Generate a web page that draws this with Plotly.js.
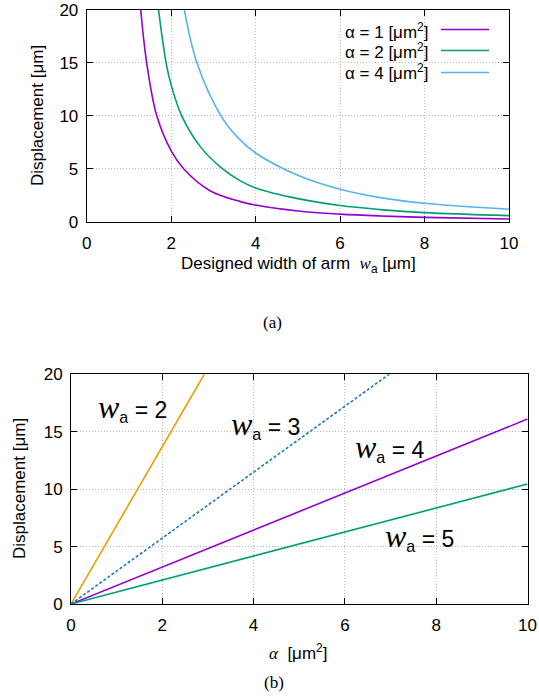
<!DOCTYPE html>
<html>
<head>
<meta charset="utf-8">
<script src="https://cdn.plot.ly/plotly-3.0.1.min.js"></script>
<style>html,body{margin:0;padding:0;background:#fff;}#chart{width:539px;height:696px;}</style>
</head>
<body>
<div id="chart"></div>
<script>
// ---- Panel (a): displacement vs designed arm width ----
const widthA1 = [1.28, 1.42, 1.66, 2.0, 2.3, 2.92, 3.64, 4, 5, 6, 6.95, 8, 10];
const dispA1  = [20, 15, 10, 6.7, 5, 2.95, 1.92, 1.6, 1.04, 0.74, 0.57, 0.44, 0.28];
const widthA2 = [1.70, 1.88, 2.0, 2.25, 2.69, 3.22, 3.64, 4, 5, 6, 6.95, 8, 10];
const dispA2  = [20, 15, 12.9, 10, 7.1, 5, 3.87, 3.2, 2.2, 1.55, 1.17, 0.88, 0.6];
const widthA4 = [2.31, 2.61, 3.18, 3.59, 4, 5, 6, 6.95, 8, 10];
const dispA4  = [20, 15, 10, 7.9, 6.5, 4.4, 3.08, 2.3, 1.76, 1.2];
const legendLabelsA = ['α = 1 [μm<sup>2</sup>]', 'α = 2 [μm<sup>2</sup>]', 'α = 4 [μm<sup>2</sup>]'];

// ---- Panel (b): displacement vs alpha ----
const alphaB = [0, 10];
const dispW2 = [0, 68.5];
const dispW3 = [0, 28.7];
const dispW4 = [0, 16.1];
const dispW5 = [0, 10.45];
const labelPosB = [[1.34, 17.1, '2'], [4.25, 15.6, '3'], [6.98, 13.6, '4'], [7.64, 5.84, '5']];

const xTicks = [0, 2, 4, 6, 8, 10];
const yTicks = [0, 5, 10, 15, 20];

const purple = '#9400D3', green = '#009E73', sky = '#56B4E9', orange = '#E69F00', blue = '#1f78b8';
const W = 539, H = 696;
const px = v => v / W, py = v => 1 - v / H;
const SANS = 'Liberation Sans';
const SERIF = 'Liberation Serif';

const lw = 1.6;
const sp = {shape: 'spline', smoothing: 1};
const traces = [
  {x: widthA1, y: dispA1, mode: 'lines', line: Object.assign({color: purple, width: lw}, sp), xaxis: 'x', yaxis: 'y'},
  {x: widthA2, y: dispA2, mode: 'lines', line: Object.assign({color: green, width: lw}, sp), xaxis: 'x', yaxis: 'y'},
  {x: widthA4, y: dispA4, mode: 'lines', line: Object.assign({color: sky, width: lw}, sp), xaxis: 'x', yaxis: 'y'},
  {x: alphaB, y: dispW2, mode: 'lines', line: {color: orange, width: lw}, xaxis: 'x2', yaxis: 'y2'},
  {x: alphaB, y: dispW3, mode: 'lines', line: {color: blue, width: lw, dash: '3px,2px'}, xaxis: 'x2', yaxis: 'y2'},
  {x: alphaB, y: dispW4, mode: 'lines', line: {color: purple, width: lw}, xaxis: 'x2', yaxis: 'y2'},
  {x: alphaB, y: dispW5, mode: 'lines', line: {color: green, width: lw}, xaxis: 'x2', yaxis: 'y2'}
];

const tickFont = {family: SANS, size: 17, color: '#000'};
function axis(extra) {
  return Object.assign({
    showline: true, linecolor: '#000', linewidth: 1, mirror: 'ticks',
    ticks: 'inside', ticklen: 6, tickcolor: '#000', tickwidth: 1,
    showgrid: true, gridcolor: '#b8b8b8', griddash: '1px,2px', gridwidth: 1,
    zeroline: false, tickfont: tickFont, fixedrange: true, layer: 'above traces'
  }, extra);
}

function ann(x, y, text, extra) {
  return Object.assign({xref: 'paper', yref: 'paper', x: px(x), y: py(y), text: text, showarrow: false,
    xanchor: 'center', yanchor: 'middle', font: {family: SANS, size: 17, color: '#000'}}, extra || {});
}
const serifW = '<span style="font-family:Liberation Serif;font-style:italic">w</span>';
const annotations = [
  ann(38, 116, 'Displacement [μm]', {textangle: -90}),
  ann(298, 265, 'Designed width of arm  ' + serifW + '<sub>a</sub> [μm]'),
  ann(273, 322, '(a)', {font: {family: SERIF, size: 17, color: '#000'}}),
  ann(19, 489, 'Displacement [μm]', {textangle: -90}),
  ann(298, 652, '<span style="font-family:Liberation Serif;font-style:italic">α</span>  [μm<sup>2</sup>]'),
  ann(274, 682, '(b)', {font: {family: SERIF, size: 17, color: '#000'}})
];
const legendText = [30.5, 51, 71.5];
const legendRows = [29.5, 50.5, 72.5];
const legendColors = [purple, green, sky];
const shapes = [
  {type: 'rect', xref: 'paper', yref: 'paper', x0: px(310), x1: px(508), y0: py(85), y1: py(10.5), fillcolor: '#fff', line: {width: 0}, layer: 'between'}
];
legendLabelsA.forEach((t, i) => {
  annotations.push(ann(343, legendText[i], t, {xanchor: 'left'}));
  shapes.push({type: 'line', xref: 'paper', yref: 'paper', x0: px(441), x1: px(489), y0: py(legendRows[i]), y1: py(legendRows[i]), line: {color: legendColors[i], width: lw}, layer: 'between'});
});
labelPosB.forEach(p => {
  annotations.push({xref: 'x2', yref: 'y2', x: p[0], y: p[1], showarrow: false, xanchor: 'center', yanchor: 'middle',
    text: '<span style="font-family:Liberation Serif;font-style:italic;font-size:32px">w</span><sub>a</sub> = ' + p[2],
    font: {family: SANS, size: 23, color: '#000'}});
});

const layout = {
  width: W, height: H,
  margin: {l: 0, r: 0, t: 0, b: 0},
  paper_bgcolor: '#fff', plot_bgcolor: '#fff',
  showlegend: false,
  font: {family: SANS, size: 17, color: '#000'},
  xaxis: axis({domain: [px(86.7), px(509)], range: [0, 10], tickvals: xTicks, anchor: 'y', ticklabelstandoff: 6}),
  yaxis: axis({domain: [py(222), py(9.7)], range: [0, 20], tickvals: yTicks, anchor: 'x', ticklabelstandoff: 4}),
  xaxis2: axis({domain: [px(71), px(527.5)], range: [0, 10], tickvals: xTicks, anchor: 'y2', ticklabelstandoff: 6}),
  yaxis2: axis({domain: [py(604), py(374.3)], range: [0, 20], tickvals: yTicks, anchor: 'x2', ticklabelstandoff: 4}),
  annotations: annotations,
  shapes: shapes
};

Plotly.newPlot('chart', traces, layout, {displayModeBar: false, staticPlot: true});
</script>
</body>
</html>
